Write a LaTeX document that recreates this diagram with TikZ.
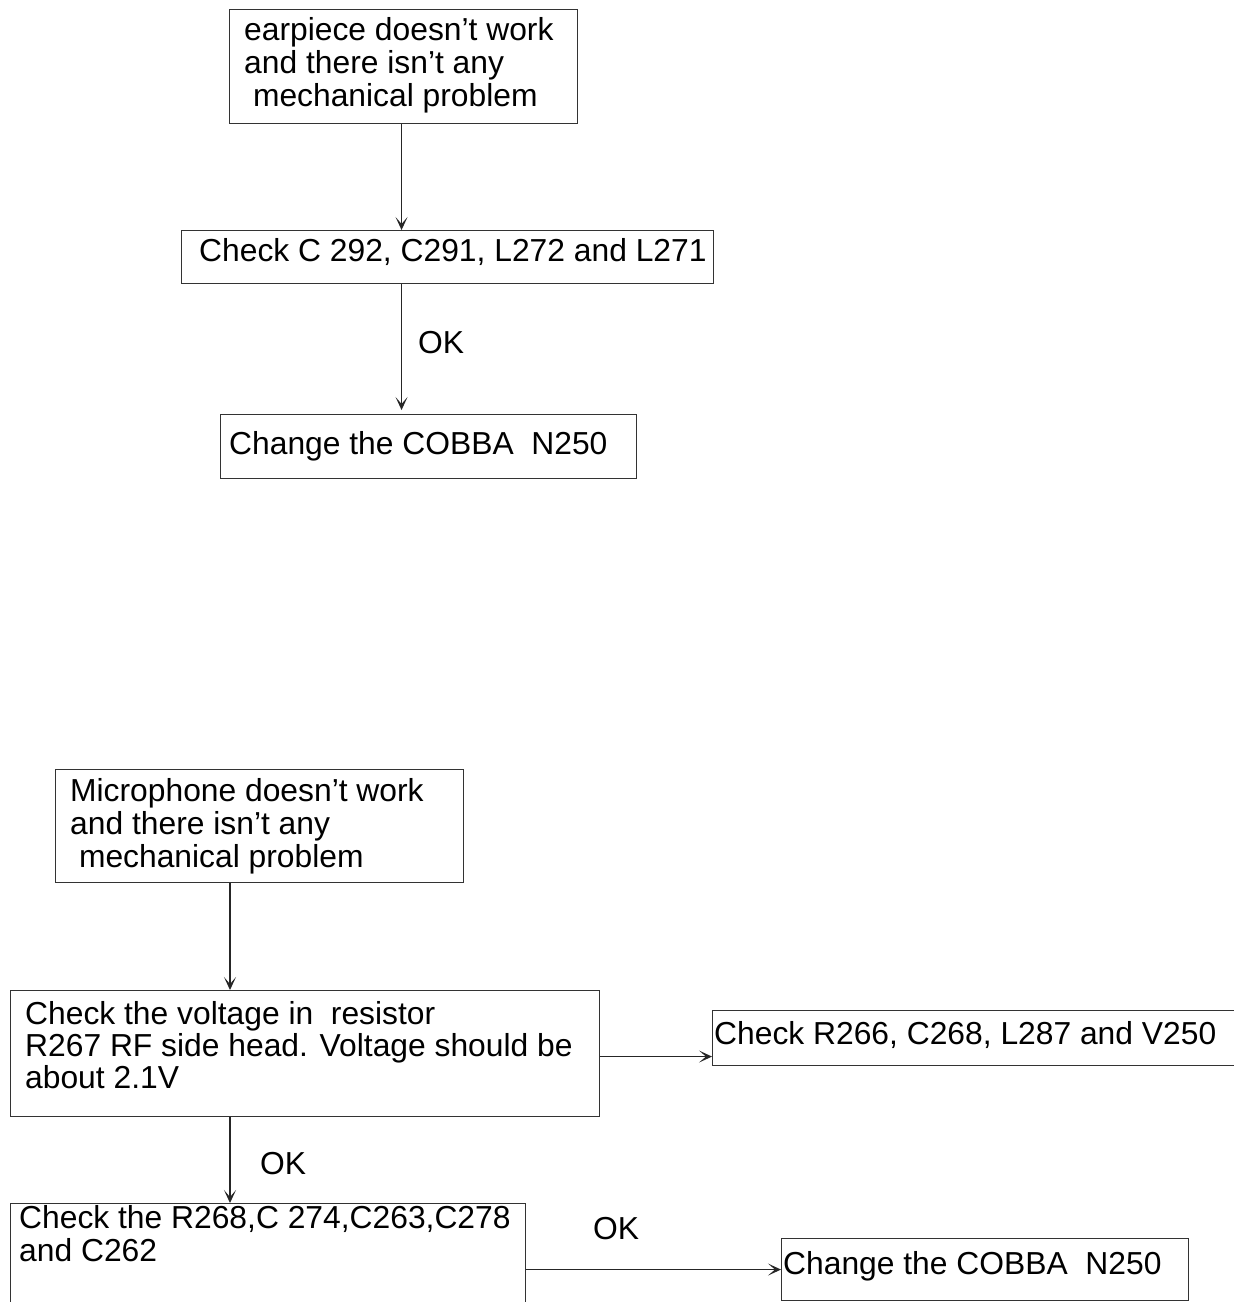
\documentclass[tikz,border=0pt]{standalone}
\usepackage{fontspec}
\setmainfont{Liberation Sans}
\usetikzlibrary{arrows.meta}
\begin{document}
\begin{tikzpicture}[x=1pt,y=-1pt,
  box/.style={draw=black!80,line width=1.1pt,inner sep=0pt,anchor=north west},
  txt/.style={anchor=base west,inner sep=0pt,font=\fontsize{31.8}{33}\selectfont,text=black},
  arr/.style={draw=black!85,line width=1.1pt,-{Stealth[length=13pt,width=12pt,inset=7pt]}}]
\useasboundingbox[fill=white] (0,0) rectangle (1234,1302);
% boxes
\node[box,minimum width=348pt,minimum height=114pt] (b1) at (229,9) {};
\node[box,minimum width=532pt,minimum height=53pt] (b2) at (181,230) {};
\node[box,minimum width=416pt,minimum height=64pt] (b3) at (220,414) {};
\node[box,minimum width=408pt,minimum height=113pt] (b4) at (55,769) {};
\node[box,minimum width=589pt,minimum height=126pt] (b5) at (10,990) {};
\node[box,minimum width=540pt,minimum height=55pt] (b6) at (712,1010) {};
\node[box,minimum width=515pt,minimum height=110pt] (b7) at (10,1203) {};
\node[box,minimum width=407pt,minimum height=62pt] (b8) at (781,1238) {};
% texts
\node[txt] (t1a) at (244,40) {earpiece doesn’t work};
\node[txt] (t1b) at (244,73) {and there isn’t any};
\node[txt] (t1c) at (244,106) {\ mechanical problem};
\node[txt] (t2) at (199,261) {Check C 292, C291, L272 and L271};
\node[txt] (t3) at (229,454) {Change the COBBA\ \ N250};
\node[txt] (t4a) at (70,801) {Microphone doesn’t work};
\node[txt] (t4b) at (70,834) {and there isn’t any};
\node[txt] (t4c) at (70,867) {\ mechanical problem};
\node[txt] (t5a) at (25,1024) {Check the voltage in\ \ resistor};
\node[txt] (t5b) at (25,1056) {R267 RF side head. Voltage should be};
\node[txt] (t5c) at (25,1088) {about 2.1V};
\node[txt] (t6) at (714,1044) {Check R266, C268, L287 and V250};
\node[txt] (t7a) at (19,1228) {Check the R268,C 274,C263,C278};
\node[txt] (t7b) at (19,1261) {and C262};
\node[txt] (t8) at (783,1274) {Change the COBBA\ \ N250};
\node[txt] (ok1) at (418,353) {OK};
\node[txt] (ok2) at (260,1174) {OK};
\node[txt] (ok3) at (593,1239) {OK};
% connectors
\draw[arr] ([xshift=-2pt]b1.south) -- ([xshift=-2pt]b1.south |- b2.north);
\draw[arr] ([xshift=-2pt]b1.south |- b2.south) -- ([xshift=-2pt,yshift=4pt]b1.south |- b3.north);
\draw[arr] ([xshift=175pt]b4.south west) -- ([xshift=220pt]b5.north west);
\draw[arr] ([yshift=-3pt]b5.east) -- ([yshift=-3pt]b5.east -| b6.west);
\draw[arr] ([xshift=220pt]b5.south west) -- ([xshift=220pt]b7.north west);
\draw[arr] (b7.east |- b8.west) -- (b8.west);
\end{tikzpicture}
\end{document}
